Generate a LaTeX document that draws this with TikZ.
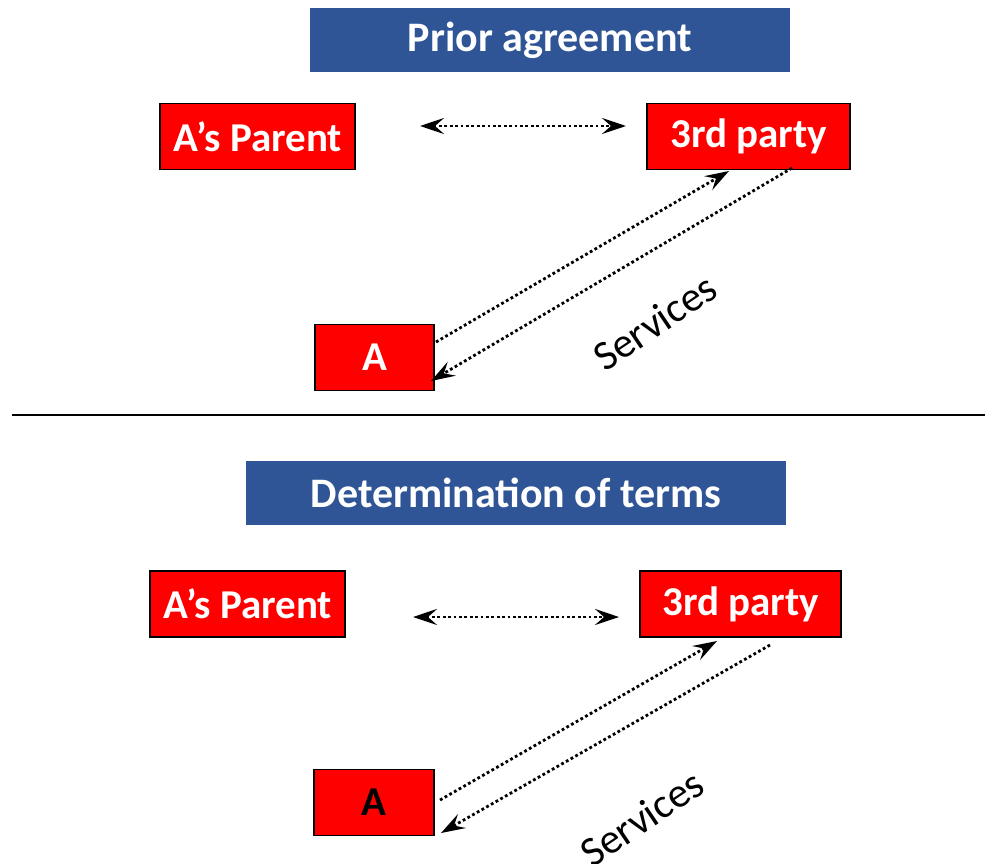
\documentclass[tikz,border=0pt]{standalone}
\usepackage{fontspec}
\setmainfont{Carlito}
\usetikzlibrary{arrows.meta}
\definecolor{titleblue}{RGB}{47,85,151}
\definecolor{boxred}{RGB}{255,0,0}
\tikzset{
  titlebox/.style={fill=titleblue, text=white, font=\fontsize{42}{48}\selectfont\bfseries,
    minimum height=64pt, inner sep=0pt},
  partybox/.style={fill=boxred, draw=black, line width=1.8pt, text=white,
    font=\fontsize{41}{48}\selectfont\bfseries, minimum height=66pt, inner sep=0pt},
  tip/.style={Stealth[length=24pt,width=16pt,inset=9pt]},
  flow/.style={line width=2.8pt, dash pattern=on 2.8pt off 2.6pt, -{Stealth[length=24pt,width=16pt,inset=9pt]}},
  bothflow/.style={flow, {Stealth[length=24pt,width=16pt,inset=9pt]}-{Stealth[length=24pt,width=16pt,inset=9pt]}},
  servlabel/.style={font=\fontsize{42}{48}\selectfont, rotate=34},
}
\begin{document}
\begin{tikzpicture}[x=1pt,y=-1pt]
\useasboundingbox (0,0) rectangle (985,864);

% ---- upper panel: prior agreement ----
\node[titlebox, minimum width=480pt] (t1) at (550,40) {Prior agreement};
\node[partybox, minimum width=195pt] (p1) at (257.5,136.5) {A’s Parent};
\node[partybox, minimum width=203pt] (q1) at (748.5,136.5) {3rd party};
\node[partybox, minimum width=119pt] (a1) at (374.5,357.5) {A};

\coordinate (p1r) at (420,126);
\coordinate (q1l) at (626,126);
\draw[bothflow] (p1r) -- (q1l);

\coordinate (a1up) at (436,342);
\coordinate (q1in) at (729,171);
\coordinate (q1out) at (792,168);
\coordinate (a1in) at (431,381);
\draw[flow] (a1up) -- (q1in);
\draw[flow] (q1out) -- (a1in);
\node[servlabel] (s1) at (655,322) {Services};

% ---- divider ----
\coordinate (dl) at (12,415);
\coordinate (dr) at (985,415);
\draw[line width=2pt] (dl) -- (dr);

% ---- lower panel: determination of terms ----
\node[titlebox, minimum width=540pt] (t2) at (516,493) {Determination of terms};
\node[partybox, minimum width=195pt] (p2) at (247.5,604) {A’s Parent};
\node[partybox, minimum width=201pt] (q2) at (740.5,604) {3rd party};
\node[partybox, minimum width=120pt, text=black] (a2) at (374,802.5) {A};

\coordinate (p2r) at (413,617);
\coordinate (q2l) at (619,617);
\draw[bothflow] (p2r) -- (q2l);

\coordinate (a2up) at (440,800);
\coordinate (q2in) at (717,641);
\coordinate (q2out) at (770,645);
\coordinate (a2in) at (441,833);
\draw[flow] (a2up) -- (q2in);
\draw[flow] (q2out) -- (a2in);
\node[servlabel] (s2) at (642,818) {Services};
\end{tikzpicture}
\end{document}
